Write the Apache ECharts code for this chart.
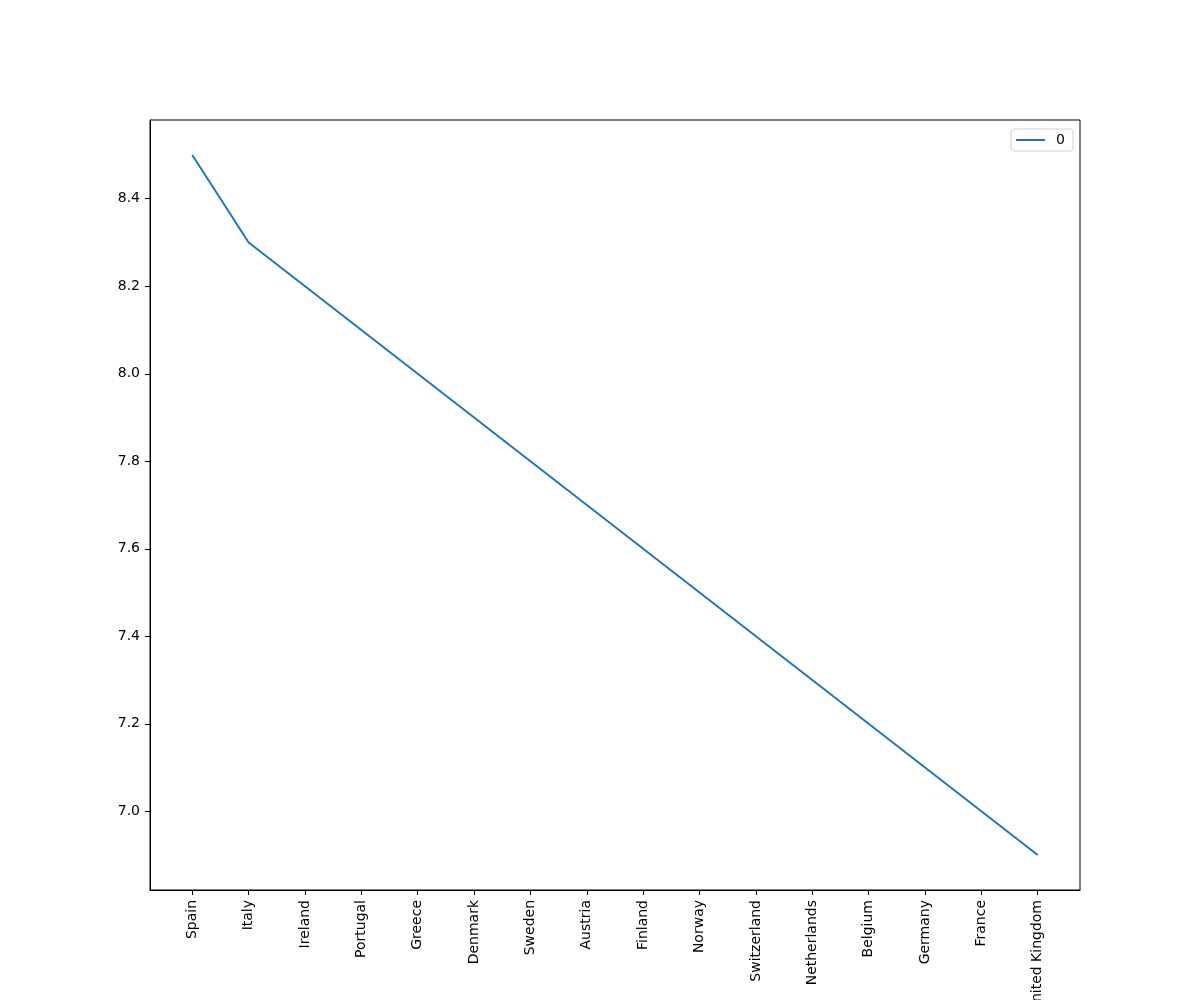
<!DOCTYPE html>
<html>
<head>
<meta charset="utf-8">
<script src="https://cdn.jsdelivr.net/npm/echarts@6/dist/echarts.min.js"></script>
<style>html,body{margin:0;padding:0;background:#fff}#c{width:1200px;height:1000px}</style>
</head>
<body>
<div id="c"></div>
<script>
const categories = ["Spain","Italy","Ireland","Portugal","Greece","Denmark","Sweden","Austria","Finland","Norway","Switzerland","Netherlands","Belgium","Germany","France","United Kingdom"];
const values = [8.5,8.3,8.2,8.1,8.0,7.9,7.8,7.7,7.6,7.5,7.4,7.3,7.2,7.1,7.0,6.9];
const yTicks = [7.0,7.2,7.4,7.6,7.8,8.0,8.2,8.4];
const seriesName = "0";

const chart = echarts.init(document.getElementById('c'), null, {renderer:'canvas'});
const font = 'DejaVu Sans';
const xIdx = categories.map((_, i) => i);
const yMin = Math.min(...values), yMax = Math.max(...values);
const yPad = (yMax - yMin) * 0.05;
const xPad = (categories.length - 1) * 0.05;

chart.setOption({
  animation: false,
  textStyle: {fontFamily: font},
  grid: {left:150, top:120, width:930, height:770, show:true, borderColor:'#000', borderWidth:1, backgroundColor:'transparent', containLabel:false, outerBoundsMode:'none'},
  legend: {
    data: [{name: seriesName, icon: 'rect'}],
    right: 127, top: 129,
    itemWidth: 29, itemHeight: 2,
    padding: [4, 8, 4, 5],
    borderColor: '#d0d0d0', borderWidth: 1, borderRadius: 3,
    backgroundColor: '#fff',
    textStyle: {fontFamily: font, fontSize: 14, color: '#000', padding:[0,0,0,6]}
  },
  xAxis: {
    type: 'value',
    min: -xPad, max: categories.length - 1 + xPad,
    splitLine: {show:false},
    axisLine: {show:true, onZero:false, lineStyle:{color:'#000', width:1}},
    axisTick: {show:true, customValues: xIdx, length:5, lineStyle:{color:'#000'}},
    axisLabel: {
      show:true, customValues: xIdx, rotate: 90, margin: 10,
      fontFamily: font, fontSize: 14, color:'#000',
      formatter: v => categories[Math.round(v)] || ''
    }
  },
  yAxis: {
    type: 'value',
    min: yMin - yPad, max: yMax + yPad,
    splitLine: {show:false},
    axisLine: {show:true, onZero:false, lineStyle:{color:'#000', width:1}},
    axisTick: {show:true, customValues: yTicks, length:5, lineStyle:{color:'#000'}},
    axisLabel: {
      show:true, customValues: yTicks, margin: 10,
      fontFamily: font, fontSize: 14, color:'#000',
      formatter: v => Number(v).toFixed(1)
    }
  },
  series: [{
    name: seriesName,
    type: 'line',
    data: values.map((v, i) => [i, v]),
    showSymbol: false,
    symbol: 'none',
    lineStyle: {color:'#1f77b4', width:2},
    itemStyle: {color:'#1f77b4'}
  }]
});
</script>
</body>
</html>
